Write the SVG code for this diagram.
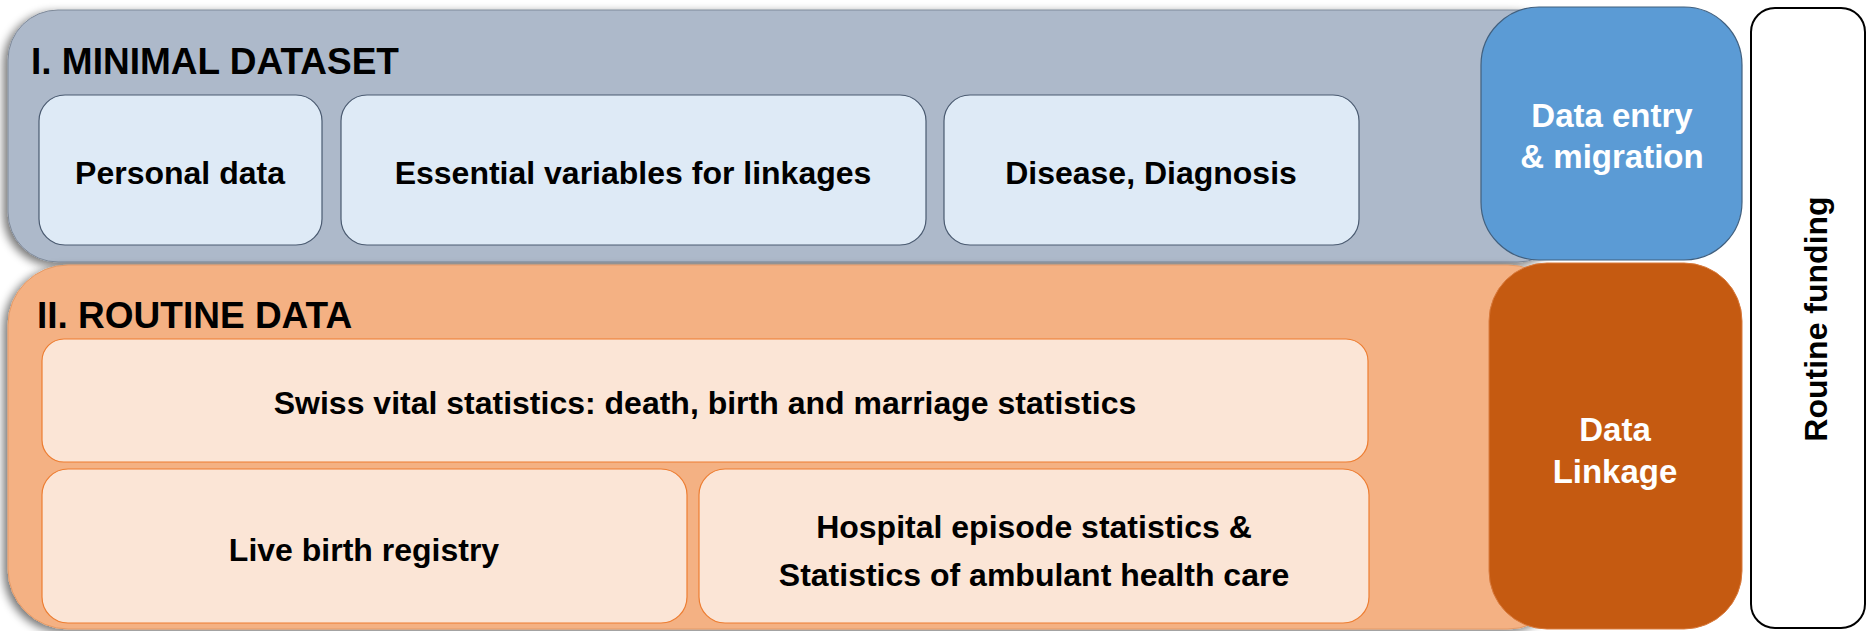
<svg xmlns="http://www.w3.org/2000/svg" width="1866" height="631" viewBox="0 0 1866 631">
<style>
text{font-family:"Liberation Sans",Arial,sans-serif;font-weight:bold;text-anchor:middle}
.title{font-size:37px;text-anchor:start;fill:#000}
.lbl{font-size:32px;fill:#000}
.wlbl{font-size:33px;fill:#fff}
.inB{fill:#DEEAF6;stroke:#4A5A70;stroke-width:1.2}
.inO{fill:#FBE5D6;stroke:#ED7D31;stroke-width:1.2}
</style>
<defs>
<filter id="sh" x="-5%" y="-10%" width="110%" height="120%">
<feGaussianBlur in="SourceAlpha" stdDeviation="5"/>
<feOffset dx="-4" dy="3" result="b"/>
<feComponentTransfer><feFuncA type="linear" slope="0.55"/></feComponentTransfer>
<feMerge><feMergeNode/><feMergeNode in="SourceGraphic"/></feMerge>
</filter>
</defs>
<rect x="0" y="0" width="1866" height="631" fill="#fff"/>
<g id="minimal-dataset">
<rect x="8" y="10" width="1560" height="252" rx="50" fill="#ADB9CA" stroke="#7F8A9A" stroke-width="1" filter="url(#sh)"/>
<text class="title" x="31" y="74">I. MINIMAL DATASET</text>
</g>
<g id="personal-data">
<rect class="inB" x="39" y="95" width="283" height="150" rx="26"/>
<text class="lbl" x="180" y="184">Personal data</text>
</g>
<g id="essential-variables">
<rect class="inB" x="341" y="95" width="585" height="150" rx="26"/>
<text class="lbl" x="633" y="184">Essential variables for linkages</text>
</g>
<g id="disease-diagnosis">
<rect class="inB" x="944" y="95" width="415" height="150" rx="26"/>
<text class="lbl" x="1151" y="184">Disease, Diagnosis</text>
</g>
<g id="routine-data">
<rect x="8" y="265" width="1560" height="364" rx="60" fill="#F4B183" stroke="#E59A66" stroke-width="1" filter="url(#sh)"/>
<text class="title" x="37" y="328">II. ROUTINE DATA</text>
</g>
<g id="swiss-vital-statistics">
<rect class="inO" x="42" y="339" width="1326" height="123" rx="22"/>
<text class="lbl" x="705" y="414">Swiss vital statistics: death, birth and marriage statistics</text>
</g>
<g id="live-birth-registry">
<rect class="inO" x="42" y="469" width="645" height="154" rx="26"/>
<text class="lbl" x="364" y="561">Live birth registry</text>
</g>
<g id="hospital-episode-statistics">
<rect class="inO" x="699" y="469" width="670" height="154" rx="26"/>
<text class="lbl" x="1034" y="538">Hospital episode statistics &amp;</text>
<text class="lbl" x="1034" y="586">Statistics of ambulant health care</text>
</g>
<g id="data-entry-migration">
<rect x="1481" y="7" width="261" height="253" rx="58" fill="#5B9BD5" stroke="#41607F" stroke-width="1.2"/>
<text class="wlbl" x="1612" y="127">Data entry</text>
<text class="wlbl" x="1612" y="168">&amp; migration</text>
</g>
<g id="data-linkage">
<rect x="1489" y="263" width="253" height="366" rx="58" fill="#C55A11" stroke="#D97A3C" stroke-width="1"/>
<text class="wlbl" x="1615" y="441">Data</text>
<text class="wlbl" x="1615" y="483">Linkage</text>
</g>
<g id="routine-funding">
<rect x="1751" y="8" width="114" height="620" rx="24" fill="#fff" stroke="#000" stroke-width="2"/>
<text class="lbl" transform="translate(1827 319) rotate(-90)">Routine funding</text>
</g>
<g id="connectors"/>
</svg>
